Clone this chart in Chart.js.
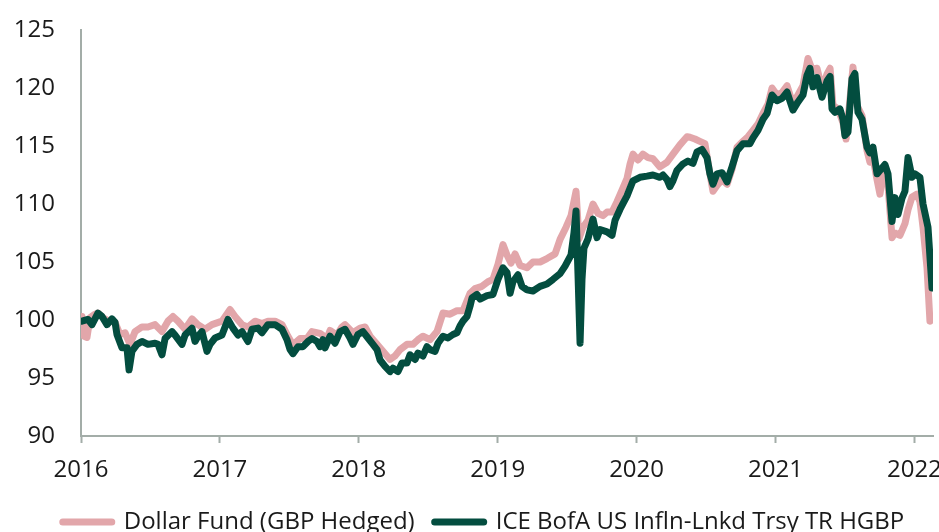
<!DOCTYPE html>
<html>
<head>
<meta charset="utf-8">
<script src="https://cdn.jsdelivr.net/npm/chart.js@4.4.1/dist/chart.umd.min.js"></script>
<style>
  html, body { margin: 0; padding: 0; background: #fff; }
  #wrap { width: 939px; height: 532px; }
</style>
</head>
<body>
<div id="wrap"><canvas id="chart"></canvas></div>
<script>
// series names
const seriesNames = ['Dollar Fund (GBP Hedged)', 'ICE BofA US Infln-Lnkd Trsy TR HGBP'];

// x axis ticks (years)
const yearTicks = [2016, 2017, 2018, 2019, 2020, 2021, 2022];

// Dollar Fund (GBP Hedged), rebased to 100 (decimal year, value)
const fundYears = [2016.007, 2016.022, 2016.043, 2016.065, 2016.101, 2016.122, 2016.158, 2016.187, 2016.245, 2016.281,
  2016.317, 2016.353, 2016.389, 2016.439, 2016.482, 2016.533, 2016.583, 2016.626, 2016.662, 2016.698,
  2016.749, 2016.799, 2016.842, 2016.893, 2016.943, 2017.015, 2017.073, 2017.109, 2017.159, 2017.202,
  2017.253, 2017.303, 2017.346, 2017.397, 2017.447, 2017.490, 2017.526, 2017.577, 2017.627, 2017.663,
  2017.721, 2017.771, 2017.793, 2017.843, 2017.879, 2017.901, 2017.958, 2018.009, 2018.045, 2018.081,
  2018.131, 2018.174, 2018.225, 2018.261, 2018.297, 2018.347, 2018.390, 2018.426, 2018.462, 2018.513,
  2018.563, 2018.606, 2018.657, 2018.707, 2018.750, 2018.801, 2018.837, 2018.887, 2018.930, 2018.966,
  2019.002, 2019.038, 2019.067, 2019.096, 2019.125, 2019.161, 2019.211, 2019.254, 2019.305, 2019.355,
  2019.413, 2019.449, 2019.492, 2019.528, 2019.564, 2019.585, 2019.614, 2019.650, 2019.686, 2019.722,
  2019.758, 2019.787, 2019.823, 2019.859, 2019.902, 2019.931, 2019.953, 2019.974, 2020.010, 2020.046,
  2020.082, 2020.118, 2020.168, 2020.219, 2020.262, 2020.312, 2020.363, 2020.384, 2020.420, 2020.456,
  2020.492, 2020.528, 2020.550, 2020.579, 2020.615, 2020.651, 2020.687, 2020.723, 2020.766, 2020.802,
  2020.838, 2020.874, 2020.910, 2020.946, 2020.975, 2021.011, 2021.047, 2021.083, 2021.126, 2021.162,
  2021.198, 2021.234, 2021.263, 2021.299, 2021.335, 2021.371, 2021.393, 2021.414, 2021.450, 2021.486,
  2021.508, 2021.536, 2021.558, 2021.587, 2021.623, 2021.659, 2021.680, 2021.702, 2021.731, 2021.752,
  2021.774, 2021.810, 2021.839, 2021.860, 2021.896, 2021.932, 2021.954, 2021.983, 2022.019, 2022.040,
  2022.062, 2022.091, 2022.112];
const fundValues = [100.3, 98.6, 98.5, 100.2, 100.5, 100.6, 100.2, 100.0, 99.8, 98.75,
  98.9, 97.9, 99.0, 99.4, 99.4, 99.6, 99.0, 99.9, 100.3, 99.9,
  99.2, 100.1, 99.6, 99.2, 99.6, 99.9, 100.9, 100.3, 99.6, 99.4,
  99.9, 99.7, 99.9, 99.9, 99.6, 98.6, 97.85, 98.4, 98.4, 99.0,
  98.85, 98.4, 99.1, 98.7, 99.4, 99.6, 98.9, 99.3, 99.4, 98.6,
  97.9, 97.3, 96.6, 96.9, 97.45, 97.9, 97.9, 98.3, 98.6, 98.3,
  99.0, 100.6, 100.5, 100.8, 100.8, 102.3, 102.7, 102.9, 103.3, 103.5,
  104.8, 106.5, 105.6, 104.9, 105.7, 104.7, 104.5, 105.0, 105.0, 105.3,
  105.7, 106.95, 108.0, 109.0, 111.1, 107.0, 108.0, 108.6, 110.0, 109.2,
  109.0, 109.3, 109.3, 110.2, 111.4, 112.2, 113.45, 114.3, 113.8, 114.3,
  114.0, 113.9, 113.2, 113.6, 114.3, 115.1, 115.8, 115.75, 115.6, 115.4,
  115.2, 112.6, 111.1, 111.6, 112.1, 111.7, 113.0, 114.9, 115.4, 115.8,
  116.35, 116.9, 117.8, 118.6, 120.0, 119.4, 119.6, 120.2, 118.6, 119.4,
  120.2, 122.55, 121.6, 121.7, 119.9, 121.2, 121.7, 118.5, 118.2, 117.0,
  115.6, 119.0, 121.8, 118.5, 117.6, 114.6, 113.6, 114.0, 112.1, 110.85,
  112.6, 111.6, 107.1, 107.5, 107.3, 108.3, 109.5, 110.6, 110.85, 110.2,
  108.0, 104.5, 99.9];

// ICE BofA US Infln-Lnkd Trsy TR HGBP, rebased to 100 (decimal year, value)
const indexYears = [2016.007, 2016.050, 2016.079, 2016.122, 2016.151, 2016.187, 2016.223, 2016.245, 2016.259, 2016.295,
  2016.331, 2016.346, 2016.367, 2016.403, 2016.439, 2016.482, 2016.533, 2016.554, 2016.583, 2016.605,
  2016.655, 2016.677, 2016.727, 2016.749, 2016.799, 2016.821, 2016.842, 2016.871, 2016.907, 2016.929,
  2016.965, 2017.015, 2017.058, 2017.094, 2017.130, 2017.159, 2017.202, 2017.231, 2017.274, 2017.303,
  2017.346, 2017.397, 2017.447, 2017.483, 2017.505, 2017.526, 2017.562, 2017.598, 2017.634, 2017.663,
  2017.699, 2017.721, 2017.742, 2017.757, 2017.793, 2017.829, 2017.865, 2017.901, 2017.937, 2017.958,
  2017.994, 2018.030, 2018.066, 2018.102, 2018.131, 2018.153, 2018.189, 2018.225, 2018.246, 2018.282,
  2018.311, 2018.347, 2018.369, 2018.405, 2018.426, 2018.462, 2018.491, 2018.513, 2018.549, 2018.570,
  2018.606, 2018.642, 2018.678, 2018.707, 2018.729, 2018.750, 2018.779, 2018.801, 2018.815, 2018.851,
  2018.873, 2018.923, 2018.966, 2019.002, 2019.038, 2019.067, 2019.089, 2019.110, 2019.146, 2019.175,
  2019.211, 2019.254, 2019.305, 2019.355, 2019.398, 2019.449, 2019.485, 2019.528, 2019.549, 2019.564,
  2019.578, 2019.593, 2019.607, 2019.621, 2019.650, 2019.686, 2019.715, 2019.737, 2019.787, 2019.823,
  2019.845, 2019.881, 2019.931, 2019.974, 2020.024, 2020.075, 2020.118, 2020.168, 2020.190, 2020.219,
  2020.240, 2020.262, 2020.291, 2020.334, 2020.370, 2020.406, 2020.435, 2020.471, 2020.507, 2020.528,
  2020.550, 2020.579, 2020.615, 2020.651, 2020.687, 2020.723, 2020.766, 2020.816, 2020.838, 2020.874,
  2020.910, 2020.939, 2020.975, 2021.011, 2021.047, 2021.083, 2021.126, 2021.162, 2021.198, 2021.227,
  2021.248, 2021.270, 2021.299, 2021.335, 2021.371, 2021.393, 2021.407, 2021.428, 2021.464, 2021.486,
  2021.500, 2021.522, 2021.551, 2021.572, 2021.594, 2021.623, 2021.659, 2021.680, 2021.702, 2021.731,
  2021.767, 2021.788, 2021.810, 2021.839, 2021.860, 2021.882, 2021.911, 2021.932, 2021.954, 2021.983,
  2022.004, 2022.040, 2022.062, 2022.098, 2022.127];
const indexValues = [99.9, 100.05, 99.6, 100.6, 100.3, 99.6, 100.1, 99.8, 98.75, 97.6,
  97.6, 95.7, 97.3, 97.9, 98.15, 97.9, 98.0, 97.9, 97.0, 98.4,
  99.0, 98.7, 97.9, 98.7, 99.3, 98.15, 98.6, 99.0, 97.3, 97.9,
  98.45, 98.7, 100.05, 99.3, 98.7, 99.0, 98.15, 99.2, 99.3, 98.9,
  99.6, 99.6, 99.2, 98.3, 97.45, 97.1, 97.7, 97.7, 98.15, 98.4,
  98.15, 97.7, 98.3, 97.6, 98.6, 98.0, 99.0, 99.2, 98.45, 97.9,
  98.75, 99.0, 98.45, 97.9, 97.45, 96.55, 96.0, 95.55, 95.85, 95.55,
  96.3, 96.3, 97.0, 96.6, 97.15, 96.9, 97.7, 97.45, 97.3, 98.0,
  98.6, 98.45, 98.75, 98.9, 99.5, 99.9, 100.3, 101.2, 101.9, 102.2,
  101.8, 102.1, 102.2, 103.5, 104.5, 104.1, 102.3, 103.3, 103.9, 102.9,
  102.6, 102.5, 102.9, 103.1, 103.5, 104.0, 104.65, 105.6, 107.5, 109.4,
  104.0, 98.0, 103.5, 106.2, 107.0, 108.7, 107.1, 107.8, 107.6, 107.3,
  108.6, 109.55, 110.7, 112.0, 112.3, 112.4, 112.5, 112.3, 112.5, 112.1,
  111.5, 112.0, 112.9, 113.45, 113.7, 113.5, 114.5, 114.7, 114.0, 112.6,
  111.7, 112.6, 112.7, 111.9, 113.2, 114.6, 115.2, 115.2, 115.7, 116.35,
  117.3, 117.8, 119.4, 118.9, 119.1, 119.65, 118.1, 118.8, 119.4, 121.1,
  121.7, 120.1, 120.9, 119.2, 120.6, 121.0, 118.2, 117.9, 118.2, 117.3,
  115.9, 116.2, 120.8, 121.25, 117.9, 117.3, 114.9, 114.4, 114.9, 112.6,
  113.1, 113.4, 112.6, 108.5, 110.55, 109.1, 110.5, 111.1, 114.0, 112.3,
  112.6, 112.3, 110.0, 108.0, 102.75];

const pink = '#e2a6aa';
const green = '#034d3f';
const axisGrey = '#a3ada8';

const toPoints = (xs, ys) => xs.map((x, i) => ({ x: x, y: ys[i] }));

// nudge the bottom legend a little to the right, as in the original layout
const legendShift = {
    id: 'legendShift',
    afterLayout(chart) {
        if (chart.legend) {
            chart.legend.left += 17;
            chart.legend.right += 17;
        }
    }
};

const config = {
    type: 'line',
    data: {
        datasets: [
            {
                label: seriesNames[0],
                data: toPoints(fundYears, fundValues),
                borderColor: pink,
                backgroundColor: pink,
                borderWidth: 7,
                borderCapStyle: 'round',
                borderJoinStyle: 'round',
                pointRadius: 0,
                tension: 0,
                order: 2
            },
            {
                label: seriesNames[1],
                data: toPoints(indexYears, indexValues),
                borderColor: green,
                backgroundColor: green,
                borderWidth: 7,
                borderCapStyle: 'round',
                borderJoinStyle: 'round',
                pointRadius: 0,
                tension: 0,
                order: 1
            }
        ]
    },
    plugins: [legendShift],
    options: {
        responsive: true,
        maintainAspectRatio: false,
        animation: false,
        layout: { padding: { top: 30, right: 6, left: 0, bottom: -12 } },
        plugins: {
            tooltip: { enabled: false },
            legend: {
                position: 'bottom',
                labels: {
                    usePointStyle: true,
                    pointStyle: 'line',
                    pointStyleWidth: 49,
                    padding: 20,
                    color: '#1a1a1a',
                    font: { family: '"Open Sans"', size: 24 },
                    sort: (a, b) => a.datasetIndex - b.datasetIndex,
                    generateLabels: chart => Chart.defaults.plugins.legend.labels.generateLabels(chart)
                        .map(item => Object.assign(item, { lineCap: 'round', lineWidth: 7 }))
                }
            }
        },
        scales: {
            x: {
                type: 'linear',
                min: 2016,
                max: 2022.134,
                afterBuildTicks: s => { s.ticks = yearTicks.map(v => ({ value: v })); },
                afterFit: s => { s.paddingLeft = 0; s.paddingRight = 0; s.height = 54; },
                ticks: {
                    padding: 13,
                    maxRotation: 0,
                    autoSkip: false,
                    color: '#1a1a1a',
                    font: { family: '"Open Sans"', size: 24 },
                    callback: v => String(v)
                },
                grid: {
                    display: true,
                    drawOnChartArea: false,
                    drawTicks: true,
                    tickLength: 7,
                    tickWidth: 2,
                    color: axisGrey
                },
                border: { display: true, color: axisGrey, width: 2 }
            },
            y: {
                min: 90,
                max: 125,
                afterFit: s => { s.width = 81; s.paddingTop = 14; s.paddingBottom = 14; },
                ticks: {
                    stepSize: 5,
                    padding: 26,
                    color: '#1a1a1a',
                    font: { family: '"Open Sans"', size: 24 }
                },
                grid: {
                    display: true,
                    drawOnChartArea: false,
                    drawTicks: false,
                    color: axisGrey
                },
                border: { display: true, color: axisGrey, width: 2 }
            }
        }
    }
};

new Chart(document.getElementById('chart'), config);
</script>
</body>
</html>
